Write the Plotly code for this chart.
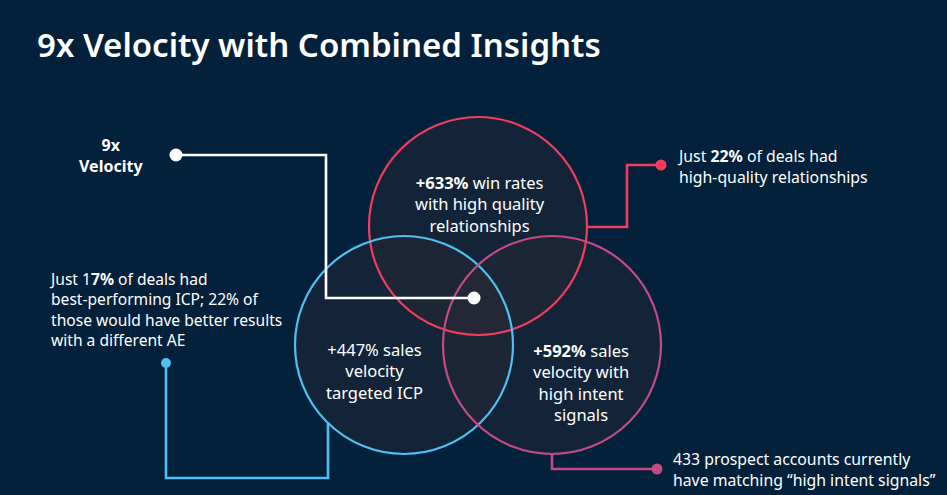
import plotly.graph_objects as go

# ---- data ----
title_text = "9x Velocity with Combined Insights"
velocity_multiple = "9x"
lift_pct = [633, 447, 592]          # red, blue, magenta circles
lift_labels = [
    "<b>+633%</b> win rates<br>with high quality<br>relationships",
    "+447% sales<br>velocity<br>targeted ICP",
    "<b>+592%</b> sales<br>velocity with<br>high intent<br>signals",
]
side_notes = [
    "Just <b>22%</b> of deals had<br>high-quality relationships",
    "Just 1<b>7%</b> of deals had<br>best-performing ICP; 22% of<br>those would have better results<br>with a different AE",
    "433 prospect accounts currently<br>have matching \u201chigh intent signals\u201d",
]

BG = "#03213a"
RED = "#f23d5e"
BLUE = "#4fc1f0"
MAG = "#c44a86"
FILL = "rgba(48,42,52,0.38)"
FONT = "Noto Sans"

W, H = 947, 495
fig = go.Figure()

# circles (pixel coordinates via fixed axes)
circles = [
    (478, 226, 109, RED),
    (404, 345, 109, BLUE),
    (552, 345, 109, MAG),
]
# fills first, then outlines so every outline stays on top
for cx, cy, r, col in circles:
    fig.add_shape(type="circle", xref="x", yref="y",
                  x0=cx - r, x1=cx + r, y0=cy - r, y1=cy + r,
                  fillcolor=FILL, line=dict(width=0), layer="below")
for cx, cy, r, col in circles:
    fig.add_shape(type="circle", xref="x", yref="y",
                  x0=cx - r, x1=cx + r, y0=cy - r, y1=cy + r,
                  fillcolor="rgba(0,0,0,0)", line=dict(color=col, width=2.2), layer="below")

# connectors
connectors = [
    ([176, 326, 326, 474], [155, 155, 298, 298], "white"),
    ([588, 627, 627, 661], [227, 227, 165, 165], RED),
    ([166, 166, 328, 328], [363, 478, 478, 422], BLUE),
    ([552, 552, 657], [453, 469, 469], MAG),
]
for xs, ys, col in connectors:
    fig.add_trace(go.Scatter(x=xs, y=ys, mode="lines",
                             line=dict(color=col, width=2.6),
                             hoverinfo="skip", showlegend=False))
# endpoint dots
dots = [
    ([176, 474], [155, 298], "white", 13),
    ([661], [165], RED, 11),
    ([166], [363], BLUE, 10),
    ([657], [469], MAG, 11),
]
for xs, ys, col, sz in dots:
    fig.add_trace(go.Scatter(x=xs, y=ys, mode="markers",
                             marker=dict(color=col, size=sz, line=dict(width=0)),
                             hoverinfo="skip", showlegend=False))

anns = []
# title
anns.append(dict(x=35, y=44, text=title_text, xanchor="left", yanchor="middle",
                 font=dict(size=33, color="white", family=FONT, weight=600)))
# 9x velocity
anns.append(dict(x=111, y=155, text=f"<b>{velocity_multiple}<br>Velocity</b>", align="center",
                 xanchor="center", yanchor="middle",
                 font=dict(size=16, color="white", family=FONT)))
# circle labels
for (x, y), txt in zip([(480, 204), (374, 371), (581, 382)], lift_labels):
    anns.append(dict(x=x, y=y, text=txt, align="center", xanchor="center", yanchor="middle",
                     font=dict(size=16.5, color="white", family=FONT)))
# side notes
anns.append(dict(x=675, y=166, text=side_notes[0], align="left", xanchor="left", yanchor="middle",
                 font=dict(size=15.8, color="white", family=FONT)))
anns.append(dict(x=47, y=309, text=side_notes[1], align="left", xanchor="left", yanchor="middle",
                 font=dict(size=15.6, color="white", family=FONT)))
anns.append(dict(x=671, y=469, text=side_notes[2], align="left", xanchor="left", yanchor="middle",
                 font=dict(size=15.8, color="white", family=FONT)))
for a in anns:
    a.update(xref="x", yref="y", showarrow=False)

fig.update_layout(
    width=W, height=H,
    margin=dict(l=0, r=0, t=0, b=0),
    paper_bgcolor=BG, plot_bgcolor=BG,
    xaxis=dict(range=[0, W], visible=False, fixedrange=True),
    yaxis=dict(range=[H, 0], visible=False, fixedrange=True),
    annotations=anns,
    showlegend=False,
)
fig.write_html("out.html", config={"displayModeBar": False},
               post_script="document.body.style.margin='0';document.body.style.background='#03213a';document.body.style.overflow='hidden';")
